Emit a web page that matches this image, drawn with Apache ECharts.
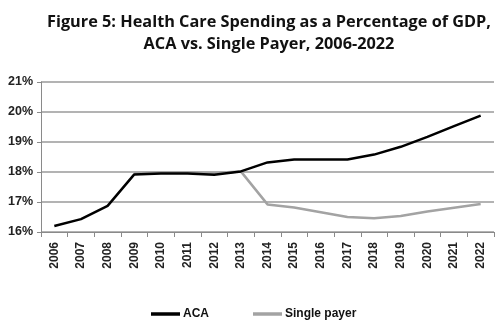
<!DOCTYPE html>
<html>
<head>
<meta charset="utf-8">
<script src="https://cdn.jsdelivr.net/npm/echarts@6/dist/echarts.min.js"></script>
<style>
  html, body { margin: 0; padding: 0; background: #fff; }
  #chart { width: 500px; height: 326px; }
</style>
</head>
<body>
<div id="chart"></div>
<script>
// Health care spending as a share of GDP, percent
const years = ['2006','2007','2008','2009','2010','2011','2012','2013','2014',
               '2015','2016','2017','2018','2019','2020','2021','2022'];
const aca = [16.2, 16.43, 16.87, 17.92, 17.95, 17.95, 17.91, 18.02, 18.32,
             18.42, 18.42, 18.42, 18.58, 18.84, 19.17, 19.53, 19.88];
const singlePayer = [null, null, null, 17.97, 17.98, 17.98, 17.97, 18.02, 16.92,
                     16.82, 16.66, 16.5, 16.46, 16.53, 16.68, 16.81, 16.93];
const yTicks = { min: 16, max: 21, step: 1 };

const chart = echarts.init(document.getElementById('chart'), null, { renderer: 'canvas' });
const labelFont = '"Liberation Sans", Arial, sans-serif';

chart.setOption({
  animation: false,
  backgroundColor: '#fff',
  title: {
    text: 'Figure 5: Health Care Spending as a Percentage of GDP,\nACA vs. Single Payer, 2006-2022',
    left: 264,
    top: 6,
    textAlign: 'center',
    textStyle: {
      fontFamily: '"Open Sans", sans-serif',
      fontWeight: 'bold',
      fontSize: 16.3,
      lineHeight: 22,
      color: '#111'
    }
  },
  legend: {
    top: 303,
    left: 146,
    itemWidth: 29,
    itemHeight: 3.5,
    itemGap: 44,
    icon: 'rect',
    textStyle: { fontFamily: labelFont, fontWeight: 'bold', fontSize: 12, color: '#111', padding: [0, 0, 0, -2] },
    data: ['ACA', 'Single payer']
  },
  grid: { left: 41, right: 6, top: 82, bottom: 94 },
  xAxis: {
    type: 'category',
    data: years,
    boundaryGap: true,
    axisLine: { lineStyle: { color: '#8a8a8a', width: 1 } },
    axisTick: { show: true, length: 5, lineStyle: { color: '#8a8a8a' } },
    axisLabel: {
      interval: 0,
      rotate: 90,
      margin: 10,
      fontFamily: labelFont,
      fontWeight: 'bold',
      fontSize: 12,
      color: '#222'
    }
  },
  yAxis: {
    type: 'value',
    min: yTicks.min,
    max: yTicks.max,
    interval: yTicks.step,
    axisLine: { show: true, lineStyle: { color: '#8a8a8a', width: 1 } },
    axisTick: { show: true, length: 4, inside: false, lineStyle: { color: '#8a8a8a' } },
    axisLabel: {
      formatter: '{value}%',
      margin: 8,
      fontFamily: labelFont,
      fontWeight: 'bold',
      fontSize: 12.5,
      color: '#222'
    },
    splitLine: { lineStyle: { color: '#9a9a9a', width: 1.5 } }
  },
  series: [
    {
      name: 'Single payer',
      type: 'line',
      data: singlePayer,
      symbol: 'none',
      smooth: false,
      z: 2,
      lineStyle: { color: '#a3a3a3', width: 2.5 },
      itemStyle: { color: '#a3a3a3' }
    },
    {
      name: 'ACA',
      type: 'line',
      data: aca,
      symbol: 'none',
      smooth: false,
      z: 3,
      lineStyle: { color: '#000', width: 2.5 },
      itemStyle: { color: '#000' }
    }
  ]
});
</script>
</body>
</html>
